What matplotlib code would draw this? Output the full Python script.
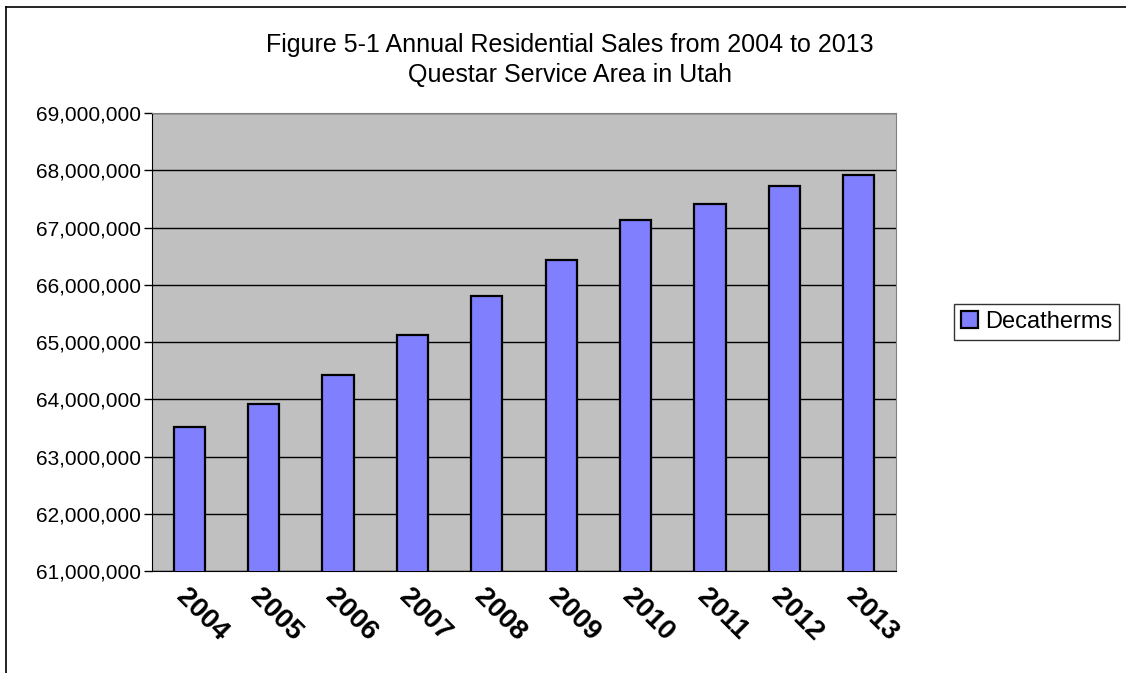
import matplotlib
matplotlib.use("Agg")
import matplotlib.pyplot as plt
from matplotlib.ticker import FuncFormatter
from matplotlib.lines import Line2D

years = ["2004", "2005", "2006", "2007", "2008", "2009", "2010", "2011", "2012", "2013"]
decatherms = [63520000, 63910000, 64420000, 65130000, 65800000,
              66430000, 67130000, 67410000, 67720000, 67920000]
y_ticks = [61000000, 62000000, 63000000, 64000000, 65000000,
           66000000, 67000000, 68000000, 69000000]

plt.rcParams["font.family"] = ["Liberation Sans", "DejaVu Sans"]

fig = plt.figure(figsize=(11.26, 6.73), dpi=100)
ax = fig.add_axes([152 / 1126, 1 - 571 / 673, (896 - 152) / 1126, (571 - 113) / 673])

# outer chart frame (only top and left edges show in the reference)
fig.add_artist(Line2D([6 / 1126, 6 / 1126], [0, 1 - 7 / 673], color="black", lw=1.2,
                      transform=fig.transFigure))
fig.add_artist(Line2D([6 / 1126, 1], [1 - 7 / 673, 1 - 7 / 673], color="black", lw=1.2,
                      transform=fig.transFigure))

ax.set_facecolor("#c0c0c0")
x = range(len(years))
ax.bar(x, decatherms, width=0.42, color="#8080ff", edgecolor="black", linewidth=1.6,
       label="Decatherms", zorder=3)

ax.set_ylim(61000000, 69000000)
ax.set_xlim(-0.5, len(years) - 0.5)
ax.set_yticks(y_ticks)
ax.yaxis.set_major_formatter(FuncFormatter(lambda v, p: f"{int(v):,}"))
ax.yaxis.grid(True, color="black", linewidth=1.0, zorder=1)
ax.set_axisbelow(True)
ax.tick_params(axis="y", direction="out", length=6, width=1, labelsize=15, pad=2)
ax.set_xticks(list(x))
ax.set_xticklabels(years, rotation=-45, ha="left", va="top", rotation_mode="anchor",
                   fontsize=20, fontweight="bold")
ax.tick_params(axis="x", length=0, pad=9)

for s in ["top", "right"]:
    ax.spines[s].set_color("#808080")
for s in ["left", "bottom"]:
    ax.spines[s].set_color("black")

fig.text(0.506, 1 - 45 / 673, "Figure 5-1 Annual Residential Sales from 2004 to 2013",
         ha="center", va="center", fontsize=18)
fig.text(0.506, 1 - 75 / 673, "Questar Service Area in Utah",
         ha="center", va="center", fontsize=18)

leg = ax.legend(loc="center left", bbox_to_anchor=(954 / 1126, 1 - 322 / 673),
                bbox_transform=fig.transFigure, fontsize=17, frameon=True,
                fancybox=False, edgecolor="black", handlelength=0.7, handleheight=0.7,
                handletextpad=0.3, borderpad=0.3, borderaxespad=0)
leg.get_frame().set_linewidth(1.0)

fig.savefig("out.png", dpi=100)
